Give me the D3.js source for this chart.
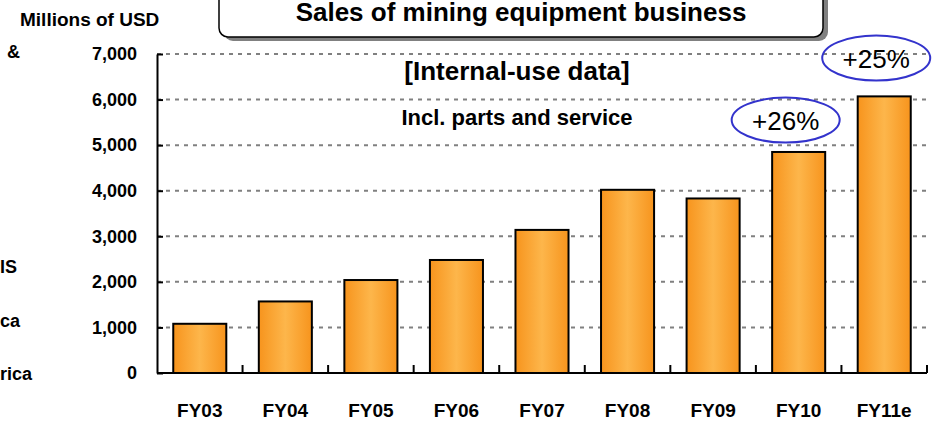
<!DOCTYPE html>
<html>
<head>
<meta charset="utf-8">
<script src="https://cdn.jsdelivr.net/npm/d3@7"></script>
<style>
  body { margin: 0; background: #fff; }
  svg { display: block; font-family: "Liberation Sans", Arial, sans-serif; }
</style>
</head>
<body>
<svg id="plot" width="934" height="421"></svg>
<script>
const years = ['FY03', 'FY04', 'FY05', 'FY06', 'FY07', 'FY08', 'FY09', 'FY10', 'FY11e']
const sales = [1080, 1570, 2040, 2480, 3140, 4020, 3830, 4850, 6070]
const yTicks = [0, 1000, 2000, 3000, 4000, 5000, 6000, 7000]
const growthNotes = [{ year: 'FY10', text: '+26%', value: 5550, shift: -13 }, { year: 'FY11e', text: '+25%', value: 6910, shift: -8 }]
const sideTexts = [{ t: '&', x: 7, y: 58 }, { t: 'IS', x: 0, y: 273 }, { t: 'ca', x: 0, y: 327 }, { t: 'rica', x: 0, y: 380 }]

const plot = d3.select('#plot')
const plotLeft = 157, plotRight = 927, plotTop = 54, plotBottom = 373

const xScale = d3.scaleBand().domain(years).range([plotLeft, plotRight]).paddingInner(0.38).paddingOuter(0.19)
const xBand = d3.scaleBand().domain(years).range([plotLeft, plotRight])
const yScale = d3.scaleLinear().domain([0, 7000]).range([plotBottom, plotTop])

// gradient for the bars
const grad = plot.append('defs').append('linearGradient')
    .attr('id', 'barGrad').attr('x1', '0%').attr('x2', '100%')
grad.append('stop').attr('offset', '0%').attr('stop-color', '#f7941d')
grad.append('stop').attr('offset', '50%').attr('stop-color', '#fdb64b')
grad.append('stop').attr('offset', '100%').attr('stop-color', '#f7941d')

// title box with shadow
plot.append('rect').attr('x', 224).attr('y', -20).attr('width', 604).attr('height', 61)
    .attr('rx', 9).attr('fill', '#808080')
plot.append('rect').attr('x', 219).attr('y', -20).attr('width', 604).attr('height', 57)
    .attr('rx', 9).attr('fill', '#fff').attr('stroke', '#000').attr('stroke-width', 1.5)
plot.append('text').attr('x', 521).attr('y', 21).attr('text-anchor', 'middle')
    .style('font-size', '26px').style('font-weight', 'bold').text('Sales of mining equipment business')

plot.append('text').attr('x', 20).attr('y', 26)
    .style('font-size', '19px').style('font-weight', 'bold').text('Millions of USD')

plot.selectAll('.side').data(sideTexts).join('text')
    .attr('x', d => d.x).attr('y', d => d.y)
    .style('font-size', '18px').style('font-weight', 'bold').text(d => d.t)

// grid
plot.selectAll('.grid').data(yTicks.slice(1)).join('line')
    .attr('x1', plotLeft).attr('x2', 930)
    .attr('y1', d => yScale(d)).attr('y2', d => yScale(d))
    .attr('stroke', '#808080').attr('stroke-width', 2).attr('stroke-dasharray', '4,5')

// notes
plot.append('text').attr('x', 517).attr('y', 80).attr('text-anchor', 'middle')
    .style('font-size', '26px').style('font-weight', 'bold').text('[Internal-use data]')
plot.append('text').attr('x', 517).attr('y', 125).attr('text-anchor', 'middle')
    .style('font-size', '22px').style('font-weight', 'bold').text('Incl. parts and service')

// bars
plot.selectAll('.bar').data(sales).join('rect')
    .attr('x', (d, i) => xScale(years[i]))
    .attr('y', d => yScale(d))
    .attr('width', xScale.bandwidth())
    .attr('height', d => plotBottom - yScale(d))
    .attr('fill', 'url(#barGrad)').attr('stroke', '#000').attr('stroke-width', 2)

// y axis
const yAxis = d3.axisLeft(yScale).tickValues(yTicks).tickFormat(d3.format(',')).tickSizeInner(-6).tickSizeOuter(0).tickPadding(20)
const yg = plot.append('g').attr('transform', `translate(${plotLeft},0)`).call(yAxis)
yg.select('.domain').attr('stroke-width', 2)
yg.selectAll('.tick line').attr('stroke-width', 2)
yg.selectAll('text').style('font-size', '18px').style('font-weight', 'bold').attr('fill', '#000')
    .style('font-family', 'inherit')

// x axis
const xg = plot.append('g').attr('transform', `translate(0,${plotBottom})`)
xg.append('line').attr('x1', plotLeft).attr('x2', plotRight).attr('y1', 0).attr('y2', 0)
    .attr('stroke', '#000').attr('stroke-width', 2)
xg.selectAll('.xtick').data(years).join('line')
    .attr('x1', d => xBand(d) + xBand.bandwidth()).attr('x2', d => xBand(d) + xBand.bandwidth())
    .attr('y1', 0).attr('y2', -8).attr('stroke', '#000').attr('stroke-width', 2)
xg.selectAll('.xlab').data(years).join('text')
    .attr('x', d => xBand(d) + xBand.bandwidth() / 2).attr('y', 44)
    .attr('text-anchor', 'middle').style('font-size', '19px').style('font-weight', 'bold')
    .text(d => d)

// growth ellipses
const notes = plot.selectAll('.note').data(growthNotes).join('g')
    .attr('transform', d => `translate(${xBand(d.year) + xBand.bandwidth() / 2 + d.shift},${yScale(d.value)})`)
notes.append('ellipse').attr('rx', 54).attr('ry', 22.5)
    .attr('fill', 'none').attr('stroke', '#3333cc').attr('stroke-width', 2)
notes.append('text').attr('y', 10).attr('text-anchor', 'middle')
    .style('font-size', '26px').text(d => d.text)
</script>
</body>
</html>
